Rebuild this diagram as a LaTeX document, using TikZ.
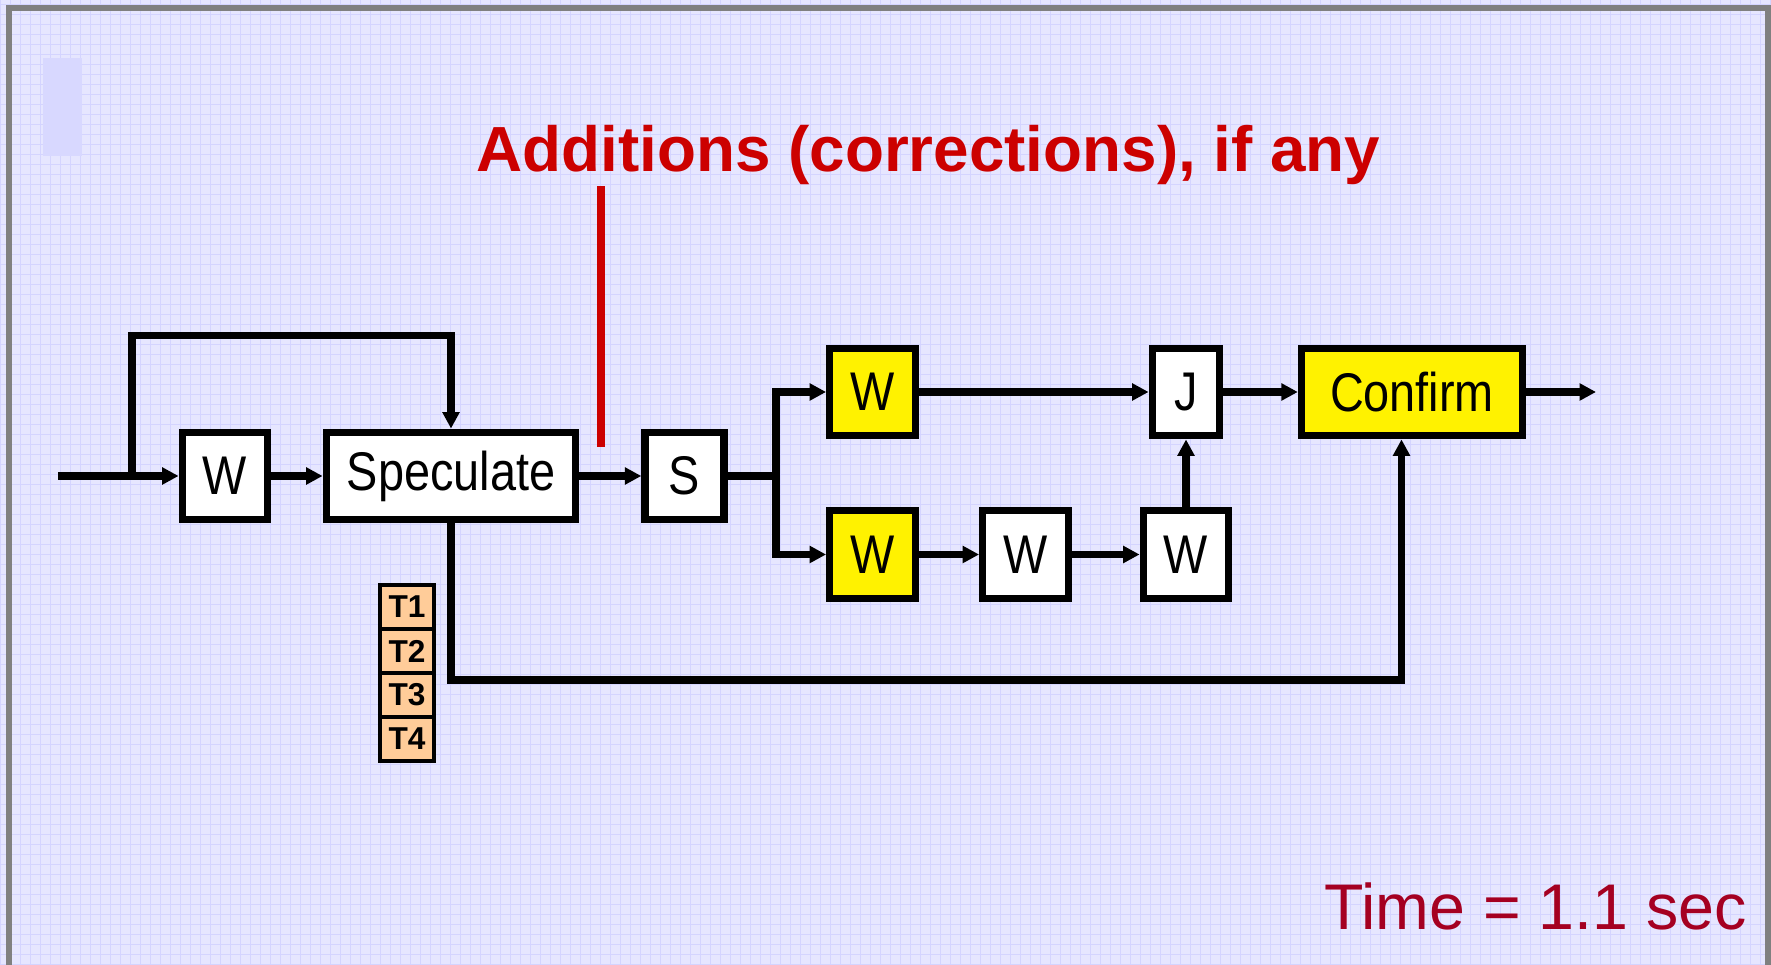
\documentclass[tikz,border=0pt]{standalone}
\usepackage{fontspec}
\setmainfont{Liberation Sans}
\newfontfamily\narrowsf[FakeStretch=0.86]{Liberation Sans}
\usetikzlibrary{arrows.meta,positioning}
\definecolor{slidebg}{RGB}{230,230,255}
\definecolor{gridlav}{RGB}{212,212,255}
\definecolor{patchlav}{RGB}{216,216,255}
\definecolor{framegray}{RGB}{128,128,128}
\definecolor{addred}{RGB}{204,0,0}
\definecolor{timered}{RGB}{165,0,33}
\definecolor{taskorange}{RGB}{255,204,153}
\tikzset{
  wire/.style={black,line width=4.3pt,line cap=rect},
  flow/.style={wire,-{Triangle[length=3.3mm,width=3.3mm]}},
  box/.style={draw=black,line width=4.2pt,fill=white,minimum width=17.1mm,
              minimum height=17.5mm,inner sep=0pt,
              font=\narrowsf\fontsize{31}{31}\selectfont},
  hot/.style={box,fill=yellow},
  task/.style={draw=black,line width=2.2pt,fill=taskorange,outer sep=0pt,
               minimum width=10.7mm,minimum height=8.8mm,inner sep=0pt,
               font=\bfseries\fontsize{18}{18}\selectfont},
  cut/.style={addred,line width=4pt},
}

\begin{document}
\begin{tikzpicture}[x=1cm,y=1cm]
  \path[use as bounding box] (0,0) rectangle (35.42,19.28);
  \fill[slidebg] (0,0) rectangle (35.42,19.28);
  \draw[gridlav,line width=0.5pt] (0,0) grid[step=0.2] (35.42,19.28);
  \fill[patchlav] (0.86,16.16) rectangle (1.63,18.11);
  \draw[framegray,line width=3.4pt] (0.18,-0.5) -- (0.18,19.12) -- (35.36,19.12) -- (35.36,-0.5);

  \node[font=\bfseries\fontsize{36.3}{36}\selectfont,text=addred,anchor=base] (title)
    at (18.57,15.85) {Additions (corrections), if any};
  \coordinate (cuttop) at (12.02,15.55);
  \coordinate (cutbot) at (12.02,10.33);
  \draw[cut] (cuttop) -- (cutbot);

  % main chain
  \node[box] (w1) at (4.50,9.76) {W};
  \node[box,minimum width=49.9mm] (spec) at (9.02,9.76) {Speculate};
  \node[box,minimum width=15.8mm] (s) at (13.69,9.76) {S};
  \node[hot] (wa) at (17.45,11.44) {W};
  \node[hot] (wb) at (17.45,8.19) {W};
  \node[box] (wc) at (20.51,8.19) {W};
  \node[box] (wd) at (23.72,8.19) {W};
  \node[box,minimum width=13.5mm] (j) at (23.72,11.44) {J};
  \node[hot,minimum width=44.2mm] (conf) at (28.24,11.44) {Confirm};

  % tasks
  \node[task] (t1) at (8.14,7.14) {T1};
  \node[task,below=0pt of t1] (t2) {T2};
  \node[task,below=0pt of t2] (t3) {T3};
  \node[task,below=0pt of t3] (t4) {T4};

  \coordinate (in) at (1.24,9.76);
  \coordinate (split) at (2.64,9.76);
  \coordinate (looptop) at (2.64,12.57);
  \coordinate (fork) at (15.52,9.76);
  \coordinate (out) at (31.92,11.44);
  \coordinate (back) at (28.03,5.68);
  \draw[flow] (in) -- (w1);
  \draw[flow] (split) -- (looptop) -| (spec.north);
  \draw[flow] (w1) -- (spec);
  \draw[flow] (spec) -- (s);
  \draw[wire] (s) -- (fork);
  \draw[flow] (fork) |- (wa);
  \draw[flow] (fork) |- (wb);
  \draw[flow] (wa) -- (j);
  \draw[flow] (wb) -- (wc);
  \draw[flow] (wc) -- (wd);
  \draw[flow] (wd) -- (j);
  \draw[flow] (j) -- (conf);
  \draw[flow] (conf) -- (out);
  \draw[flow] (spec.south) |- (back) -- (back |- conf.south);

  \node[font=\fontsize{36.7}{36}\selectfont,text=timered,anchor=base east] (time)
    at (35.06,0.69) {Time = 1.1 sec};
\end{tikzpicture}
\end{document}
